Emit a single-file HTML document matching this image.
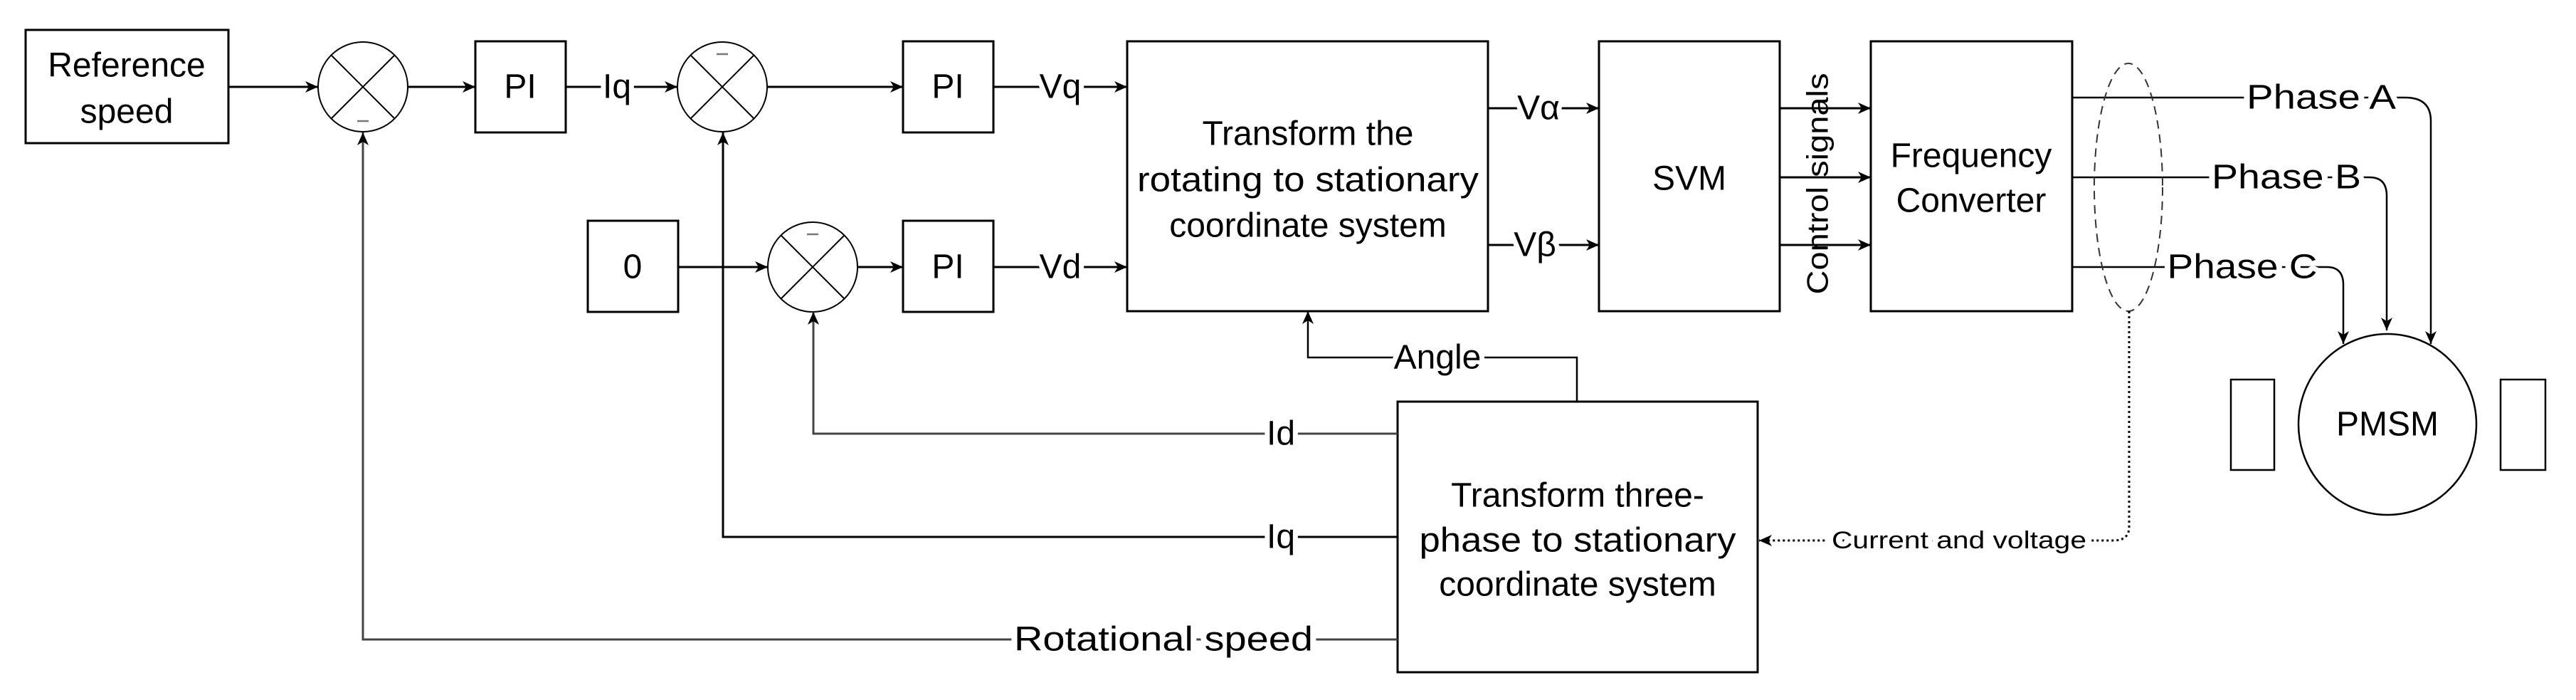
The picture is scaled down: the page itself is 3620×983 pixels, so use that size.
<!DOCTYPE html>
<html><head><meta charset="utf-8"><style>
html,body{margin:0;padding:0;background:#fff;}
svg{display:block;}
text{font-family:"Liberation Sans",sans-serif;fill:#000;}
</style></head><body>
<svg width="3620" height="983" viewBox="0 0 3620 983" xmlns="http://www.w3.org/2000/svg">
<defs>
<marker id="a" markerWidth="20" markerHeight="16" refX="18" refY="8" orient="auto" markerUnits="userSpaceOnUse">
<path d="M0,0 L18,8 L0,16 L5,8 Z" fill="#000"/>
</marker>
</defs>
<g fill="none" stroke="#000" stroke-width="3">
<!-- boxes -->
<rect x="36" y="42" width="285" height="159"/>
<rect x="668" y="58" width="127" height="128"/>
<rect x="1269" y="58" width="127" height="128"/>
<rect x="826" y="310" width="127" height="128"/>
<rect x="1269" y="310" width="127" height="128"/>
<rect x="1584" y="58" width="507" height="379"/>
<rect x="2247" y="58" width="254" height="379"/>
<rect x="2629" y="58" width="283" height="379"/>
<rect x="1964" y="564" width="506" height="380"/>
<rect x="3135" y="533" width="61" height="127" stroke-width="2.5"/>
<rect x="3514" y="533" width="63" height="127" stroke-width="2.5"/>
<ellipse cx="3355" cy="596" rx="125" ry="127" stroke-width="2.5"/>
<!-- summing junctions -->
<g stroke-width="2">
<circle cx="510" cy="122" r="63"/>
<path d="M465,77 L555,167 M555,77 L465,167"/>
<circle cx="1015" cy="122" r="63"/>
<path d="M970,77 L1060,167 M1060,77 L970,167"/>
<circle cx="1142" cy="375" r="63"/>
<path d="M1097,330 L1187,420 M1187,330 L1097,420"/>
</g>
<!-- minus signs -->
<g stroke="#777" stroke-width="2.5">
<path d="M502,170 L518,170"/>
<path d="M1007,76 L1023,76"/>
<path d="M1134,329 L1150,329"/>
</g>
<!-- forward connectors -->
<path d="M321,122 L447,122" marker-end="url(#a)"/>
<path d="M573,122 L668,122" marker-end="url(#a)"/>
<path d="M795,122 L952,122" marker-end="url(#a)"/>
<path d="M1078,122 L1269,122" marker-end="url(#a)"/>
<path d="M1396,122 L1584,122" marker-end="url(#a)"/>
<path d="M953,375 L1079,375" marker-end="url(#a)"/>
<path d="M1205,375 L1269,375" marker-end="url(#a)"/>
<path d="M1396,375 L1584,375" marker-end="url(#a)"/>
<path d="M2091,152 L2247,152" marker-end="url(#a)"/>
<path d="M2091,344 L2247,344" marker-end="url(#a)"/>
<path d="M2501,152 L2629,152" marker-end="url(#a)"/>
<path d="M2501,249 L2629,249" marker-end="url(#a)"/>
<path d="M2501,344 L2629,344" marker-end="url(#a)"/>
<!-- phases -->
<path d="M2912,137 L3380,137 Q3416,137 3416,170 L3416,483" stroke-width="2.5" marker-end="url(#a)"/>
<path d="M2912,249 L3330,249 Q3354,249 3354,275 L3354,464" stroke-width="2.5" marker-end="url(#a)"/>
<path d="M2912,375 L3270,375 Q3293,375 3293,400 L3293,483" stroke-width="2.5" marker-end="url(#a)"/>
<!-- feedback -->
<path d="M1964,609 L1143,609 L1143,438" stroke="#444" marker-end="url(#a)"/>
<path d="M1964,754 L1016,754 L1016,186" marker-end="url(#a)"/>
<path d="M1964,898 L510,898 L510,186" stroke="#444" marker-end="url(#a)"/>
<path d="M2216,564 L2216,502 L1838,502 L1838,437" stroke-width="2.5" marker-end="url(#a)"/>
<!-- dashed ellipse and dotted line -->
<ellipse cx="2991" cy="263" rx="48" ry="174" stroke="#333" stroke-width="2" stroke-dasharray="12,8"/>
<path d="M2992,437 L2992,740 Q2992,759 2970,759 L2472,759" stroke-width="3" stroke-dasharray="3,4" marker-end="url(#a)"/>
</g>
<!-- labels -->
<g font-size="48" text-anchor="middle" dominant-baseline="central" stroke="#fff" stroke-width="14" paint-order="stroke" stroke-linejoin="round">
<text x="867" y="122">Iq</text>
<text x="1490" y="122">Vq</text>
<text x="1490" y="375">Vd</text>
<text x="2162" y="152">Vα</text>
<text x="2157" y="344">Vβ</text>
<text x="3262" y="137" textLength="210" lengthAdjust="spacingAndGlyphs">Phase A</text>
<text x="3213" y="249" textLength="210" lengthAdjust="spacingAndGlyphs">Phase B</text>
<text x="3151" y="375" textLength="211" lengthAdjust="spacingAndGlyphs">Phase C</text>
<text x="2020" y="502">Angle</text>
<text x="1800" y="609">Id</text>
<text x="1800" y="754">Iq</text>
<text x="1635" y="898" textLength="420" lengthAdjust="spacingAndGlyphs">Rotational speed</text>
<text x="2753" y="759" font-size="34" textLength="358" lengthAdjust="spacingAndGlyphs">Current and voltage</text>
</g>
<g font-size="48" text-anchor="middle" dominant-baseline="central">
<text x="178" y="92">Reference</text>
<text x="178" y="157">speed</text>
<text x="731" y="122">PI</text>
<text x="1332" y="122">PI</text>
<text x="1332" y="375">PI</text>
<text x="889" y="375">0</text>
<text x="1838" y="188">Transform the</text>
<text x="1838" y="253" textLength="480" lengthAdjust="spacingAndGlyphs">rotating to stationary</text>
<text x="1838" y="317">coordinate system</text>
<text x="2374" y="251">SVM</text>
<text x="2770" y="219">Frequency</text>
<text x="2770" y="282">Converter</text>
<text x="2217" y="696">Transform three-</text>
<text x="2217" y="759" textLength="445" lengthAdjust="spacingAndGlyphs">phase to stationary</text>
<text x="2217" y="821">coordinate system</text>
<text x="3355" y="596">PMSM</text>
<text transform="translate(2554,258) rotate(-90)" x="0" y="0" font-size="42" textLength="311" lengthAdjust="spacingAndGlyphs">Control signals</text>
</g>
</svg>
</body></html>
